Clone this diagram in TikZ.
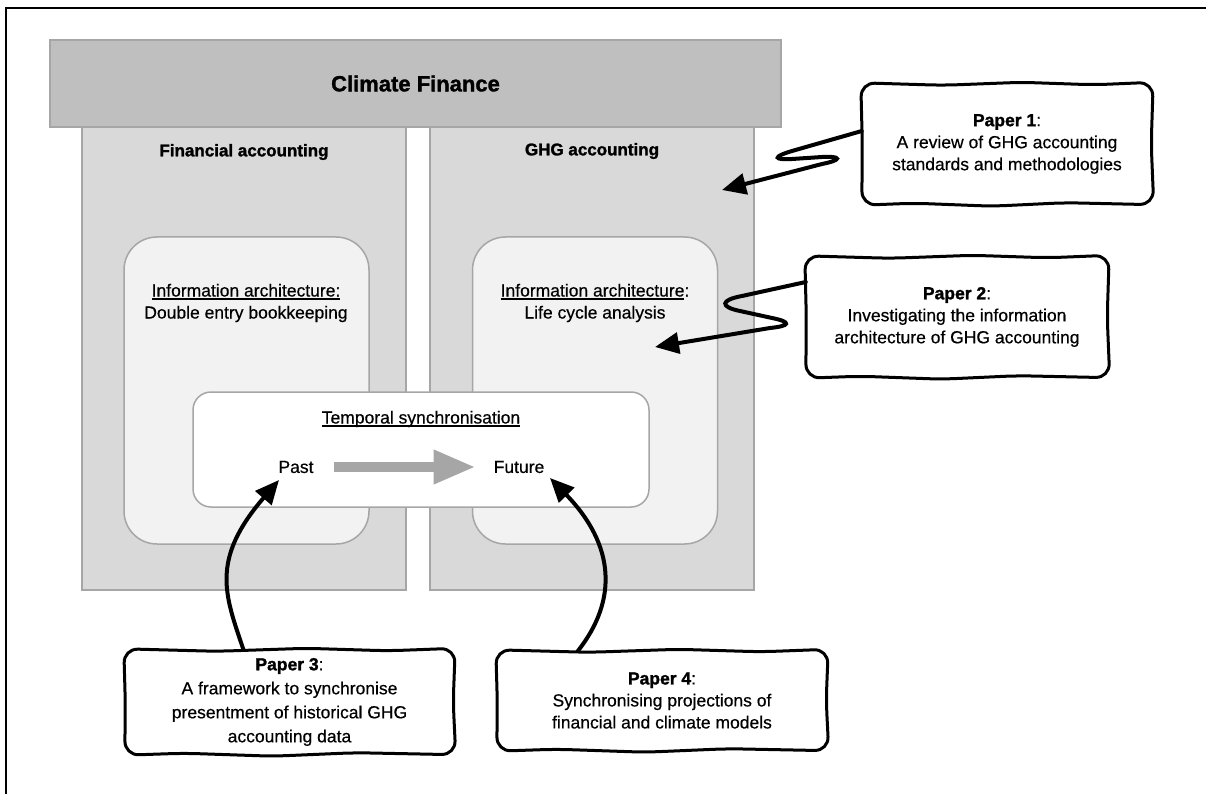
\documentclass[tikz,border=0pt]{standalone}
\usepackage{fontspec}
\setmainfont{Liberation Sans}[FakeBold=0.5]
\newfontfamily\heavyfont{Liberation Sans Bold}[FakeBold=1.5]
\usetikzlibrary{calc,arrows.meta}

\definecolor{barfill}{HTML}{BFBFBF}
\definecolor{colfill}{HTML}{D9D9D9}
\definecolor{innerfill}{HTML}{F2F2F2}
\definecolor{edgegray}{HTML}{A6A6A6}

% underline with a firm rule
\newcommand\ulin[1]{\setbox0\hbox{#1}\rlap{\rule[-3pt]{\wd0}{1.6pt}}\box0}
\newcommand\hv[1]{{\heavyfont #1}}

% hand-drawn outline around a node
\newcommand\handbox[1]{%
  \draw[paperedge] let \p1=(#1.north west), \p2=(#1.south east) in
    ({\x1+0.5pt},{(\y1+\y2)/2}) --
    ({\x1-1pt},{\y1+1pt}) --
    ({\x1+0.28*(\x2-\x1)},{\y1-1.5pt}) --
    ({\x1+0.55*(\x2-\x1)},{\y1+1.5pt}) --
    ({\x1+0.8*(\x2-\x1)},{\y1-1pt}) --
    ({\x2+1pt},{\y1+1.5pt}) --
    ({\x2-1pt},{(\y1+\y2)/2}) --
    ({\x2+1.5pt},{\y2-0.5pt}) --
    ({\x1+0.7*(\x2-\x1)},{\y2+1.5pt}) --
    ({\x1+0.45*(\x2-\x1)},{\y2-2pt}) --
    ({\x1+0.18*(\x2-\x1)},{\y2+1pt}) --
    ({\x1},{\y2-1pt}) -- cycle;}

\begin{document}
\begin{tikzpicture}[x=1pt,y=-1pt,
  frame/.style={line width=2pt,black},
  bar/.style={fill=barfill,draw=edgegray,line width=1.5pt,minimum width=731pt,minimum height=87pt,
    inner sep=0pt,font=\fontsize{22}{26}\selectfont\heavyfont},
  column/.style={fill=colfill,draw=edgegray,line width=1.5pt,minimum width=324pt,minimum height=463pt,inner sep=0pt},
  coltitle/.style={font=\fontsize{17}{22}\selectfont\heavyfont,inner sep=0pt},
  innerbox/.style={fill=innerfill,draw=edgegray,line width=1.5pt,rounded corners=33pt,
    minimum width=245pt,minimum height=307pt,inner sep=0pt},
  temporal/.style={fill=white,draw=edgegray,line width=1.5pt,rounded corners=18pt,
    minimum width=456pt,minimum height=115pt,inner sep=0pt},
  body/.style={font=\fontsize{17.5}{22}\selectfont,align=center,inner sep=0pt},
  paper/.style={font=\fontsize{17.5}{22}\selectfont,align=center,inner sep=0pt},
  paperedge/.style={line width=3pt,black,rounded corners=14pt,fill=white},
  grayarrow/.style={edgegray,line width=10pt,-{Triangle[length=42pt,width=32pt]}},
  conn/.style={line width=4pt,black,line cap=round,-{Triangle[length=24pt,width=21pt]}}]

\useasboundingbox (0,0) rectangle (1206,794);

% outer frame
\draw[frame] (6,794) -- (6,8) -- (1206,8);

% the two accounting columns under the climate finance bar
\node[column] (fa) at (244,358.5) {};
\node[column] (ga) at (592,358.5) {};
\node[bar] (cf) at (415.5,83.5) {Climate Finance};
\node[coltitle] (fatitle) at (244,152) {Financial accounting};
\node[coltitle] (gatitle) at (592,151) {GHG accounting};

% information architecture boxes
\node[innerbox] (fi) at (246.5,390.5) {};
\node[innerbox] (gi) at (595,390.5) {};
\node[body] (fitext) at (246,303) {\ulin{Information architecture:}\\Double entry bookkeeping};
\node[body] (gitext) at (595,303) {\ulin{Information architecture}:\\Life cycle analysis};

% temporal synchronisation
\node[temporal] (ts) at (421,449.5) {};
\node[body] (tstitle) at (421,419) {\ulin{Temporal synchronisation}};
\node[body] (past) at (296,467) {Past};
\node[body] (future) at (519,467) {Future};
\draw[grayarrow] ([xshift=20pt]past.east) -- ([xshift=-18pt]future.west);

% papers
\node[paper,minimum width=290pt,minimum height=120pt] (p1) at (1007,144) {};
\handbox{p1}
\node[paper] (p1text) at (p1) {\hv{Paper 1}:\\A review of GHG accounting\\standards and methodologies};

\node[paper,minimum width=302pt,minimum height=120pt] (p2) at (957,317) {};
\handbox{p2}
\node[paper] (p2text) at (p2) {\hv{Paper 2}:\\Investigating the information\\architecture of GHG accounting};

\node[paper,minimum width=329pt,minimum height=104pt] (p3) at (289.5,702) {};
\handbox{p3}
\node[paper,font=\fontsize{17.5}{24}\selectfont] (p3text) at (p3) {\hv{Paper 3}:\\A framework to synchronise\\presentment of historical GHG\\accounting data};

\node[paper,minimum width=330pt,minimum height=99pt] (p4) at (662,700.5) {};
\handbox{p4}
\node[paper] (p4text) at (p4) {\hv{Paper 4}:\\Synchronising projections of\\financial and climate models};

% connectors
\coordinate (t1) at (722,190);
\coordinate (t2) at (655,347);
\coordinate (t3) at (279,480);
\coordinate (t4) at (550,478);

\draw[conn] ($(p1.west)+(0,-13)$) -- (792,151)
  .. controls (772,157) and (774,160) .. (792,159) -- (822,157)
  .. controls (842,156) and (842,160) .. (822,164) -- (t1);

\draw[conn] ($(p2.west)+(0,-35)$) -- (742,296)
  .. controls (720,300) and (720,307) .. (740,311) -- (772,318)
  .. controls (792,322) and (790,326) .. (770,328) -- (t2);

\draw[conn] ($(p3.north)+(-46,0)$) .. controls (225,595) and (210,560) .. (t3);
\draw[conn] ($(p4.north)+(-84,0)$) .. controls (618,600) and (615,545) .. (t4);

\end{tikzpicture}
\end{document}
